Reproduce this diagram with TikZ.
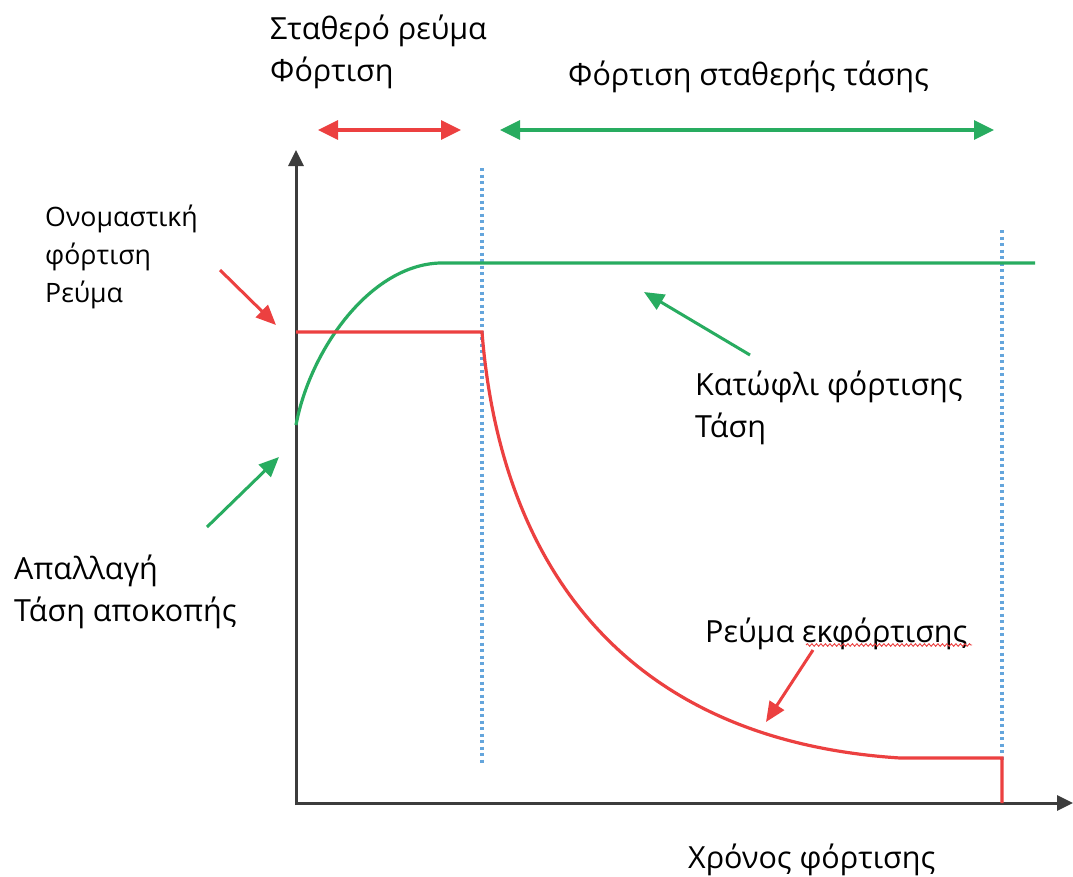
\documentclass[tikz,border=0pt]{standalone}
\usepackage{fontspec}
\setmainfont{Open Sans}
\usetikzlibrary{arrows.meta,decorations.pathmorphing}
\definecolor{cred}{RGB}{236,64,64}
\definecolor{cgreen}{RGB}{40,172,96}
\definecolor{cblue}{RGB}{100,165,220}
\definecolor{caxis}{RGB}{60,60,60}
\tikzset{
  axisline/.style={draw=caxis, line width=3pt, -{Triangle[length=16pt,width=15pt]}},
  spanred/.style={draw=cred, line width=3.4pt, {Triangle[length=20pt,width=19pt]}-{Triangle[length=20pt,width=19pt]}},
  spangreen/.style={draw=cgreen, line width=3.4pt, {Triangle[length=20pt,width=19pt]}-{Triangle[length=20pt,width=19pt]}},
  pointer/.style={line width=3pt, -{Triangle[length=20pt,width=17pt]}},
  guide/.style={draw=cblue, line width=3.2pt, dash pattern=on 3pt off 3.5pt},
  curve/.style={line width=3.2pt},
  lbl/.style={anchor=west, inner sep=0pt, font=\fontsize{30.5}{42}\selectfont, align=left},
  lblsmall/.style={anchor=west, inner sep=0pt, font=\fontsize{26.7}{38}\selectfont, align=left}
}
\begin{document}
\begin{tikzpicture}[x=1pt, y=-1pt]
  \useasboundingbox[fill=white] (0,0) rectangle (1073,876);

  % axes
  \coordinate (O) at (296,803);
  \coordinate (ytop) at (296,150);
  \coordinate (xend) at (1073,803);
  \draw[axisline] (296,805) -- (ytop);
  \draw[axisline] (O) -- (xend);

  % phase boundaries
  \coordinate (b1top) at (482,168);
  \coordinate (b1bot) at (482,765);
  \coordinate (b2top) at (1002,230);
  \coordinate (b2bot) at (1002,760);
  \draw[guide] (b1top) -- (b1bot);
  \draw[guide] (b2top) -- (b2bot);

  % voltage curve
  \coordinate (v0) at (296,425);
  \coordinate (v1) at (440,263);
  \coordinate (v2) at (1035,263);
  \draw[curve, cgreen] (v0) .. controls (310,350) and (370,265) .. (v1) -- (v2);

  % current curve
  \coordinate (c0) at (296,332);
  \coordinate (c1) at (482,332);
  \coordinate (c2) at (900,758);
  \coordinate (c3) at (1002,758);
  \coordinate (c4) at (1002,803);
  \draw[curve, cred] (c0) -- (c1) .. controls (500,560) and (620,740) .. (c2) -- (c3) -- (c4);

  % phase spans
  \coordinate (r0) at (318,130);
  \coordinate (r1) at (461,130);
  \coordinate (g0) at (500,130);
  \coordinate (g1) at (994,130);
  \draw[spanred] (r0) -- (r1);
  \draw[spangreen] (g0) -- (g1);

  % labels
  \node[lbl] (tcc) at (270,52) {Σταθερό ρεύμα\\Φόρτιση};
  \node[lbl] (tcv) at (568,77) {Φόρτιση σταθερής τάσης};
  \node[lblsmall] (tnom) at (45,257) {Ονομαστική\\φόρτιση\\Ρεύμα};
  \node[lbl] (tthr) at (695,408) {Κατώφλι φόρτισης\\Τάση};
  \node[lbl] (tcut) at (14,592) {Απαλλαγή\\Τάση αποκοπής};
  \node[lbl] (tdis) at (705,634) {Ρεύμα εκφόρτισης};
  \node[lbl] (ttime) at (688,860) {Χρόνος φόρτισης};

  % spell-check squiggle under the second word
  \coordinate (sq0) at (806,645);
  \coordinate (sq1) at (972,645);
  \draw[cred, line width=0.9pt, decorate, decoration={snake, amplitude=1.3pt, segment length=4.5pt}] (sq0) -- (sq1);

  % pointer arrows
  \coordinate (pa0) at (220,270);
  \coordinate (pa1) at (276,325);
  \coordinate (pb0) at (207,527);
  \coordinate (pb1) at (279,457);
  \coordinate (pc0) at (750,355);
  \coordinate (pc1) at (644,292);
  \coordinate (pd0) at (813,650);
  \coordinate (pd1) at (766,722);
  \draw[pointer, cred] (pa0) -- (pa1);
  \draw[pointer, cgreen] (pb0) -- (pb1);
  \draw[pointer, cgreen] (pc0) -- (pc1);
  \draw[pointer, cred] (pd0) -- (pd1);
\end{tikzpicture}
\end{document}
